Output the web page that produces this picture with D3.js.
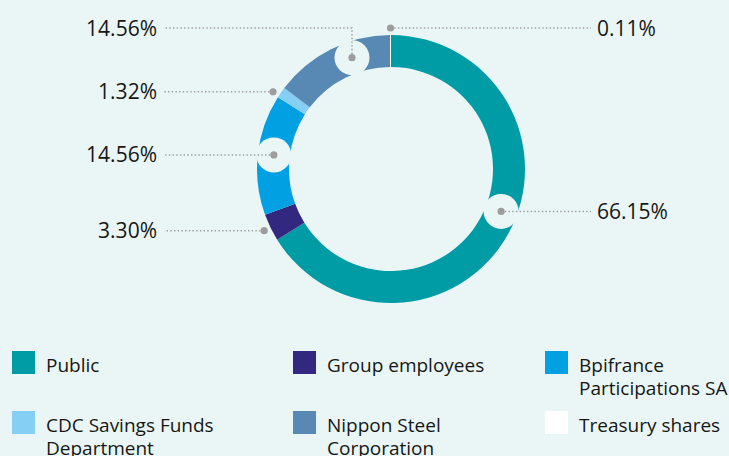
<!DOCTYPE html>
<html>
<head>
<meta charset="utf-8">
<script src="https://cdn.jsdelivr.net/npm/d3@7"></script>
<style>
  html, body { margin: 0; padding: 0; background: #eaf6f6; }
  svg { display: block; }
  text { font-family: 'Open Sans', 'Noto Sans', sans-serif; fill: #161615; }
</style>
</head>
<body>
<div id="chart"></div>
<script>
var categories = ['Public', 'Group employees', 'Bpifrance Participations SA',
    'CDC Savings Funds Department', 'Nippon Steel Corporation', 'Treasury shares'];
var shares = [66.15, 3.30, 14.56, 1.32, 14.56, 0.11];
var shareLabels = ['66.15%', '3.30%', '14.56%', '1.32%', '14.56%', '0.11%'];
var legendLines = [['Public'], ['Group employees'], ['Bpifrance', 'Participations SA'],
    ['CDC Savings Funds', 'Department'], ['Nippon Steel', 'Corporation'], ['Treasury shares']];
var colors = ['#009ca6', '#33287f', '#00a0e2', '#84cff3', '#5889b4', '#ffffff'];

var width = 729, height = 456;
var cx = 391, cy = 169,
    outerR = 134, innerR = 102;

// how each call-out sits: on the ring (with a cut-out) or just outside it
var callouts = [
    { ring: true,  side: 'right', nudge: -8 },
    { ring: false, side: 'left',  nudge: 0 },
    { ring: true,  side: 'left',  nudge: 0.6 },
    { ring: false, side: 'left',  nudge: -1.6 },
    { ring: true,  side: 'left',  nudge: 7.3, elbowY: 28 },
    { ring: false, side: 'right', nudge: 0 }
];
var leftTextX = 157, rightTextX = 597;

var svg = d3.select('#chart').append('svg')
    .attr('width', width)
    .attr('height', height)
    .style('background', '#eaf6f6');

var pie = d3.pie().sort(null).value(function(d) { return d; });
var arcs = pie(shares);

var arc = d3.arc().innerRadius(innerR).outerRadius(outerR);

var g = svg.append('g').attr('transform', 'translate(' + cx + ',' + cy + ')');

g.selectAll('path.slice')
    .data(arcs)
    .enter().append('path')
    .attr('class', 'slice')
    .attr('d', arc)
    .style('fill', function(d, i) { return colors[i]; });

// anchor points for the call-outs
var anchors = arcs.map(function(d, i) {
    var c = callouts[i];
    var a = (d.startAngle + d.endAngle) / 2 + c.nudge * Math.PI / 180;
    var r = c.ring ? (innerR + outerR) / 2 : outerR + 7;
    return { x: cx + r * Math.sin(a), y: cy - r * Math.cos(a), c: c, i: i };
});

// cut-outs on the ring
svg.selectAll('circle.cut')
    .data(anchors.filter(function(d) { return d.c.ring; }))
    .enter().append('circle')
    .attr('class', 'cut')
    .attr('cx', function(d) { return d.x; })
    .attr('cy', function(d) { return d.y; })
    .attr('r', 17.5)
    .style('fill', '#eaf6f6');

var line = d3.line();
svg.selectAll('path.leader')
    .data(anchors)
    .enter().append('path')
    .attr('class', 'leader')
    .attr('d', function(d) {
        var ly = d.c.elbowY !== undefined ? d.c.elbowY : d.y;
        var pts = [[d.x, d.y]];
        if (d.c.elbowY !== undefined) pts.push([d.x, ly]);
        if (d.c.side === 'left') pts.push([leftTextX + 7, ly]);
        else pts.push([rightTextX - 6, ly]);
        return line(pts);
    })
    .style('fill', 'none')
    .style('stroke', '#9d9d9d')
    .style('stroke-width', 1.5)
    .style('stroke-dasharray', '1.4,2.3');

svg.selectAll('circle.dot')
    .data(anchors)
    .enter().append('circle')
    .attr('class', 'dot')
    .attr('cx', function(d) { return d.x; })
    .attr('cy', function(d) { return d.y; })
    .attr('r', 3.6)
    .style('fill', '#9d9d9d');

svg.selectAll('text.pct')
    .data(anchors)
    .enter().append('text')
    .attr('class', 'pct')
    .attr('x', function(d) { return d.c.side === 'left' ? leftTextX : rightTextX; })
    .attr('y', function(d) { return (d.c.elbowY !== undefined ? d.c.elbowY : d.y) + 7.5; })
    .attr('text-anchor', function(d) { return d.c.side === 'left' ? 'end' : 'start'; })
    .style('font-size', '21px')
    .text(function(d) { return shareLabels[d.i]; });

// legend, 3 columns x 2 rows
var colX = [12, 293, 545], rowY = [351, 411], box = 23;
var legend = svg.selectAll('g.legend')
    .data(categories)
    .enter().append('g')
    .attr('class', 'legend')
    .attr('transform', function(d, i) {
        return 'translate(' + colX[i % 3] + ',' + rowY[Math.floor(i / 3)] + ')';
    });

legend.append('rect')
    .attr('width', box)
    .attr('height', box)
    .style('fill', function(d, i) { return colors[i]; });

legend.append('text')
    .attr('x', 34)
    .attr('y', 21)
    .style('font-size', '19px')
    .selectAll('tspan')
    .data(function(d, i) { return legendLines[i]; })
    .enter().append('tspan')
    .attr('x', 34)
    .attr('dy', function(d, j) { return j ? 22.5 : 0; })
    .text(function(d) { return d; });
</script>
</body>
</html>
